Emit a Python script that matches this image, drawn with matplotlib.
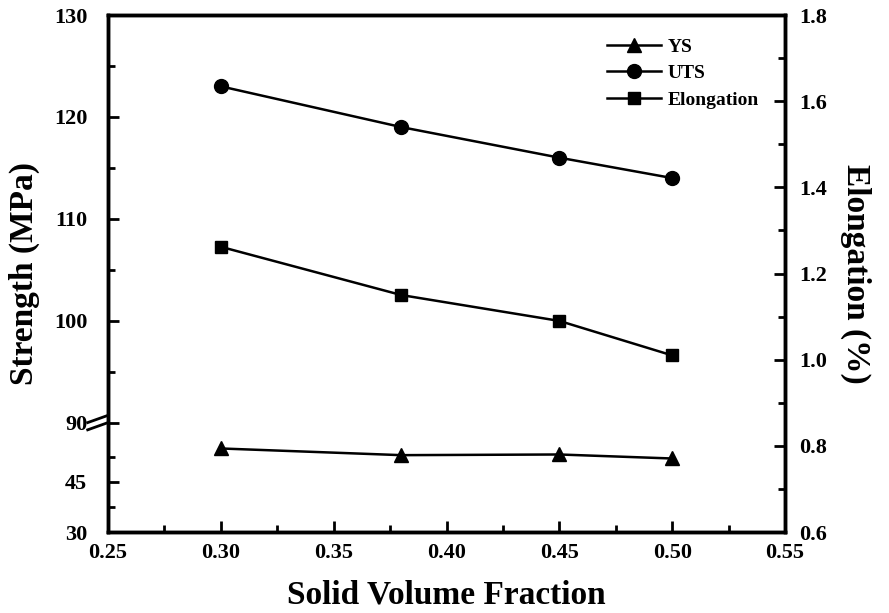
import numpy as np
import matplotlib.pyplot as plt
from matplotlib.scale import FuncScale
from matplotlib.ticker import FixedLocator, MultipleLocator, FixedFormatter

# data
fraction = [0.30, 0.38, 0.45, 0.50]
ys = [55.0, 53.0, 53.2, 52.0]
uts = [123.0, 119.0, 116.0, 114.0]
elong = [1.262, 1.15, 1.09, 1.01]

plt.rcParams['font.family'] = ['Liberation Serif', 'DejaVu Serif']
plt.rcParams['font.weight'] = 'bold'

# broken strength axis: 30-60 compressed below the 90-130 part
def fwd(y):
    y = np.asarray(y, dtype=float)
    out = np.where(y >= 90, y,
          np.where(y >= 60, 89.1 + (y - 60) * 0.9 / 30, 89.1 - (60 - y) * 0.328))
    return out

def inv(z):
    z = np.asarray(z, dtype=float)
    out = np.where(z >= 90, z,
          np.where(z >= 89.1, 60 + (z - 89.1) * 30 / 0.9, 60 - (89.1 - z) / 0.328))
    return out

fig = plt.figure(figsize=(8.89, 6.13), dpi=100)
ax = fig.add_axes([0.1215, 0.1321, 0.7615, 0.8434])
ax2 = ax.twinx()

ax.set_yscale(FuncScale(ax, (fwd, inv)))
ax.set_ylim(30, 130)
ax.set_xlim(0.25, 0.55)
ax2.set_ylim(0.6, 1.8)

l1, = ax.plot(fraction, ys, '-k^', lw=1.8, ms=10, label='YS')
l2, = ax.plot(fraction, uts, '-ko', lw=1.8, ms=10, label='UTS')
l3, = ax2.plot(fraction, elong, '-ks', lw=1.8, ms=9, label='Elongation')

ax.yaxis.set_major_locator(FixedLocator([30, 45, 90, 100, 110, 120, 130]))
ax.yaxis.set_major_formatter(FixedFormatter(['30', '45', '90', '100', '110', '120', '130']))
ax.yaxis.set_minor_locator(FixedLocator([37.5, 52.5, 95, 105, 115, 125]))
ax.xaxis.set_major_locator(MultipleLocator(0.05))
ax.xaxis.set_minor_locator(MultipleLocator(0.025))
ax.xaxis.set_major_formatter(plt.FuncFormatter(lambda v, p: f'{v:.2f}'))
ax2.yaxis.set_major_locator(MultipleLocator(0.2))
ax2.yaxis.set_minor_locator(MultipleLocator(0.1))
ax2.yaxis.set_major_formatter(plt.FuncFormatter(lambda v, p: f'{v:.1f}'))

for a in (ax, ax2):
    a.tick_params(which='major', direction='in', length=8, width=2, labelsize=16)
    a.tick_params(which='minor', direction='in', length=5, width=2)
    for s in a.spines.values():
        s.set_linewidth(2.5)
ax.tick_params(axis='x', pad=8)
ax.tick_params(axis='y', pad=15)
ax2.tick_params(axis='y', pad=10)

ax.set_xlabel('Solid Volume Fraction', fontsize=24, fontweight='bold', labelpad=12)
ax.set_ylabel('Strength (MPa)', fontsize=24, fontweight='bold', labelpad=10)
ax2.set_ylabel('Elongation (%)', fontsize=24, fontweight='bold', rotation=270, labelpad=32)

# break marks on the left spine
yb = (fwd(90) - fwd(30)) / (fwd(130) - fwd(30))
for dy in (-0.007, 0.007):
    ax.plot([-0.03, 0.0], [yb + dy - 0.007, yb + dy + 0.007], transform=ax.transAxes,
            color='k', lw=2, clip_on=False)

ax.legend(handles=[l1, l2, l3], loc='upper right', bbox_to_anchor=(0.985, 0.985),
          frameon=False, fontsize=14, handlelength=2.8, handletextpad=0.35,
          labelspacing=0.45, borderpad=0.3)

fig.savefig('out.png', dpi=100)
